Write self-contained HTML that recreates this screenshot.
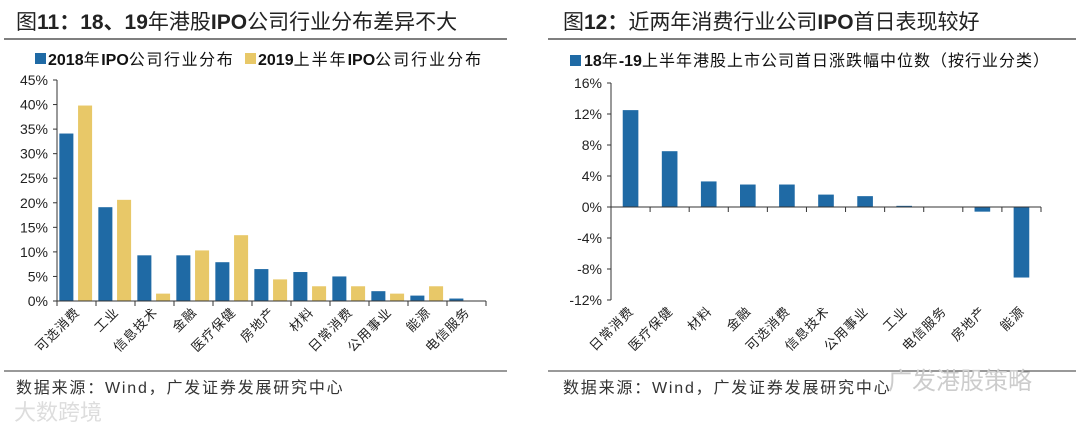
<!DOCTYPE html>
<html><head><meta charset="utf-8">
<style>
html,body{margin:0;padding:0;background:#fff;}
svg{display:block;font-family:"Liberation Sans","Noto Sans CJK SC",sans-serif;}
</style></head>
<body>
<svg id="s" width="1080" height="430" viewBox="0 0 1080 430" xmlns="http://www.w3.org/2000/svg">
<text x="16" y="29" font-size="21" fill="#222">图<tspan font-weight="bold">11：18、19</tspan>年港股<tspan font-weight="bold">IPO</tspan>公司行业分布差异不大</text>
<line x1="4" y1="39" x2="507" y2="39" stroke="#333" stroke-width="1.2"/>
<text x="563" y="29" font-size="21" fill="#222">图<tspan font-weight="bold">12：</tspan>近两年消费行业公司<tspan font-weight="bold">IPO</tspan>首日表现较好</text>
<line x1="548" y1="39" x2="1076" y2="39" stroke="#333" stroke-width="1.2"/>

<rect x="35" y="53" width="11" height="11" fill="#1f6aa5"/>
<text x="48" y="65" font-size="16" fill="#111" letter-spacing="1.6"><tspan font-weight="bold" letter-spacing="0">2018</tspan>年<tspan font-weight="bold" letter-spacing="0">IPO</tspan>公司行业分布</text>
<rect x="245" y="53" width="11" height="11" fill="#e8c868"/>
<text x="258" y="65" font-size="16" fill="#111" letter-spacing="2"><tspan font-weight="bold" letter-spacing="0">2019</tspan>上半年<tspan font-weight="bold" letter-spacing="0">IPO</tspan>公司行业分布</text>

<rect x="570" y="55" width="11" height="11" fill="#1f6aa5"/>
<text x="584" y="66" font-size="16" fill="#111" letter-spacing="1"><tspan font-weight="bold" letter-spacing="0">18</tspan>年<tspan font-weight="bold" letter-spacing="0">-19</tspan>上半年港股上市公司首日涨跌幅中位数（按行业分类）</text>

<g id="left"></g>
<g id="right"></g>

<line x1="4" y1="371" x2="507" y2="371" stroke="#333" stroke-width="1"/>
<text x="16" y="393" font-size="16" fill="#333" letter-spacing="1.8">数据来源：Wind，广发证券发展研究中心</text>
<line x1="548" y1="371" x2="1076" y2="371" stroke="#333" stroke-width="1"/>
<text x="563" y="393" font-size="16" fill="#333" letter-spacing="1.8">数据来源：Wind，广发证券发展研究中心</text>
<text x="888" y="389" font-size="24" fill="#ccc">广发港股策略</text>
<text x="14" y="420" font-size="22" fill="#ddd">大数跨境</text>
</svg>
<script>
const leftCats=["可选消费","工业","信息技术","金融","医疗保健","房地产","材料","日常消费","公用事业","能源","电信服务"];
const left2018=[34.1,19.1,9.3,9.3,7.9,6.5,5.9,5.0,2.0,1.1,0.5];
const left2019=[39.8,20.6,1.5,10.3,13.4,4.4,3.0,3.0,1.5,3.0,0];
const leftTicks=[0,5,10,15,20,25,30,35,40,45];
const rightCats=["日常消费","医疗保健","材料","金融","可选消费","信息技术","公用事业","工业","电信服务","房地产","能源"];
const rightVals=[12.5,7.2,3.3,2.9,2.9,1.6,1.4,0.15,0,-0.6,-9.1];
const rightTicks=[-12,-8,-4,0,4,8,12,16];
const NS="http://www.w3.org/2000/svg";
function mk(p,t,a){const e=document.createElementNS(NS,t);for(const k in a)e.setAttribute(k,a[k]);p.appendChild(e);return e;}
// left
(function(){
const g=document.getElementById('left');
const x0=57,x1=486,y=v=>301-(v/45)*221;
const bw=(x1-x0)/leftCats.length;
mk(g,'line',{x1:x0,y1:y(45),x2:x0,y2:y(0),stroke:'#333'});
leftTicks.forEach(t=>{
 const l=mk(g,'line',{x1:x0-4,y1:y(t),x2:x0,y2:y(t),stroke:'#333'});
 
 
 const tx=mk(g,'text',{x:x0-9,y:y(t)+5,'font-size':14,'text-anchor':'end',fill:'#222'});
 tx.textContent=t+'%';
 
 
});
leftCats.forEach((c,i)=>{
 const cx=x0+bw*(i+0.5);
 const b1=mk(g,'rect',{x:cx-bw*0.44,y:y(left2018[i]),width:bw*0.36,height:y(0)-y(left2018[i]),fill:'#1f6aa5'});
 
 
 const b2=mk(g,'rect',{x:cx+bw*0.04,y:y(left2019[i]),width:bw*0.36,height:y(0)-y(left2019[i]),fill:'#e8c868'});
 
 
 mk(g,'line',{x1:x0+bw*i,y1:y(0),x2:x0+bw*i,y2:y(0)+5,stroke:'#333'});
 const tx=mk(g,'text',{x:0,y:0,'font-size':13,'letter-spacing':1,'text-anchor':'end',fill:'#222',transform:`translate(${cx+4},${y(0)+12}) rotate(-45)`});
 tx.textContent=c;
 
 
});
mk(g,'line',{x1:x1,y1:y(0),x2:x1,y2:y(0)+5,stroke:'#333'});
mk(g,'line',{x1:x0,y1:y(0),x2:x1,y2:y(0),stroke:'#333'});
})();
// right
(function(){
const g=document.getElementById('right');
const x0=611,x1=1041,y=v=>207-(v/16)*124;
const bw=(x1-x0)/rightCats.length;
mk(g,'line',{x1:x0,y1:y(16),x2:x0,y2:y(-12),stroke:'#333'});
rightTicks.forEach(t=>{
 mk(g,'line',{x1:x0-4,y1:y(t),x2:x0,y2:y(t),stroke:'#333'});
 const tx=mk(g,'text',{x:x0-9,y:y(t)+5,'font-size':14,'text-anchor':'end',fill:'#222'});
 tx.textContent=t+'%';
 
 
});
rightCats.forEach((c,i)=>{
 const cx=x0+bw*(i+0.5);
 const v=rightVals[i];
 const b=mk(g,'rect',{x:cx-bw*0.2,y:Math.min(y(v),y(0)),width:bw*0.4,height:Math.abs(y(0)-y(v)),fill:'#1f6aa5'});
 
 
 mk(g,'line',{x1:x0+bw*(i+1),y1:y(0),x2:x0+bw*(i+1),y2:y(0)+5,stroke:'#333'});
 const tx=mk(g,'text',{x:0,y:0,'font-size':13,'letter-spacing':1,'text-anchor':'end',fill:'#222',transform:`translate(${cx+4},${y(-12)+12}) rotate(-45)`});
 tx.textContent=c;
 
 
});
mk(g,'line',{x1:x0,y1:y(0),x2:x1,y2:y(0),stroke:'#333'});
})();
</script>
</body></html>
